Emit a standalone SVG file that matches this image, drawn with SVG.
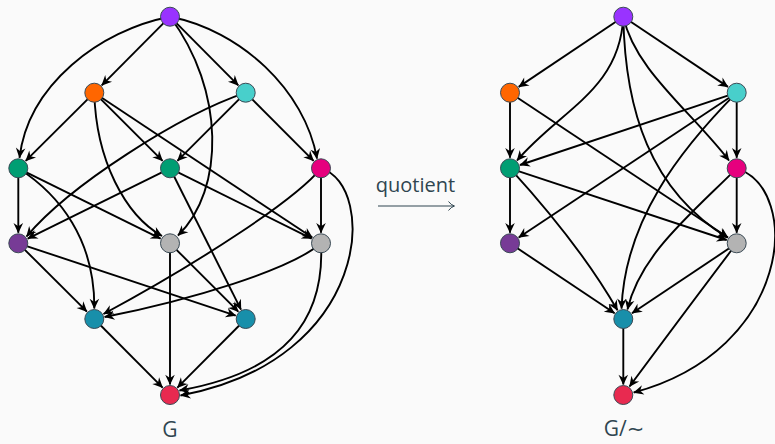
<svg xmlns="http://www.w3.org/2000/svg" width="775" height="444" viewBox="0 0 775 444">
<style>
.e{fill:none;stroke:#000;stroke-width:1.9;marker-end:url(#ah)}
.n{stroke:#3a4a55;stroke-width:1}
.t{font-family:"Open Sans","DejaVu Sans",sans-serif;fill:#2f4550;text-anchor:middle}
</style>
<defs>
<marker id="ah" viewBox="-11 -6 12 12" refX="0" refY="0" markerWidth="12" markerHeight="12" markerUnits="userSpaceOnUse" orient="auto">
<path d="M0.5,0 L-9.8,-4.8 L-6.6,0 L-9.8,4.8 Z" fill="#000"/>
</marker>
</defs>
<rect width="775" height="444" fill="#fafafa"/>
<g id="connectors">
<path class="e" d="M170,16.7 L101.7,85.3"/>
<path class="e" d="M170,16.7 L238.3,85.3"/>
<path class="e" d="M170,16.7 C100,30 28,85 19.5,157.8"/>
<path class="e" d="M170,16.7 C240,30 305,90 317,158.6"/>
<path class="e" d="M170,16.7 C225,90 225,190 178,235.5"/>
<path class="e" d="M94.3,92.7 L25.7,160.9"/>
<path class="e" d="M94.3,92.7 L162.6,160.9"/>
<path class="e" d="M94.3,92.7 C96,160 125,215 162,236"/>
<path class="e" d="M94.3,92.7 L312.3,237.5"/>
<path class="e" d="M245.7,92.7 L177.4,160.9"/>
<path class="e" d="M245.7,92.7 L313.6,160.9"/>
<path class="e" d="M245.7,92.7 C180,115 70,185 26.5,236.5"/>
<path class="e" d="M18.3,168.3 L18.3,232.8"/>
<path class="e" d="M18.3,168.3 L160.6,238.6"/>
<path class="e" d="M18.3,168.3 C60,195 95,240 94.3,308.5"/>
<path class="e" d="M170,168.3 L27.7,238.6"/>
<path class="e" d="M170,168.3 L311.6,238.6"/>
<path class="e" d="M170,168.3 L241,309.6"/>
<path class="e" d="M321,168.3 L321,232.8"/>
<path class="e" d="M321,168.3 C295,200 200,262 103.5,314"/>
<path class="e" d="M321,168.3 C378,185 372,360 180.5,395.5"/>
<path class="e" d="M18.3,243.3 L86.9,311.6"/>
<path class="e" d="M18.3,243.3 L235.7,315.7"/>
<path class="e" d="M170,243.3 L238.3,311.6"/>
<path class="e" d="M170,243.3 L170,384.5"/>
<path class="e" d="M321,243.3 C290,270 190,300 104.6,317"/>
<path class="e" d="M321,243.3 C325,320 285,372 179.5,390.5"/>
<path class="e" d="M94.3,319 L162.6,387.6"/>
<path class="e" d="M245.7,319 L177.4,387.6"/>
<path class="e" d="M623.3,16.7 L518.7,86.9"/>
<path class="e" d="M623.3,16.7 L728,86.9"/>
<path class="e" d="M623.3,16.7 C620,90 560,110 517,160.5"/>
<path class="e" d="M623.3,16.7 C635,70 690,110 729,160.5"/>
<path class="e" d="M623.3,16.7 C625,110 650,190 727.7,237.7"/>
<path class="e" d="M510,92.7 L510,157.8"/>
<path class="e" d="M510,92.7 L728,237.5"/>
<path class="e" d="M736.7,92.7 L520,165"/>
<path class="e" d="M736.7,92.7 L736.7,157.8"/>
<path class="e" d="M736.7,92.7 L518.7,237.5"/>
<path class="e" d="M736.7,92.7 C680,150 625,220 621.5,308.6"/>
<path class="e" d="M510,168.3 L510,232.8"/>
<path class="e" d="M510,168.3 L726.7,240"/>
<path class="e" d="M510,168.3 Q580,245 617.5,310.3"/>
<path class="e" d="M736.7,168.3 L736.7,232.8"/>
<path class="e" d="M736.7,168.3 C690,215 640,255 627.5,309.4"/>
<path class="e" d="M736.7,168.3 C803,190 792,350 633.7,392.5"/>
<path class="e" d="M510,243.3 L614.6,313.2"/>
<path class="e" d="M736.7,243.3 L632,313.2"/>
<path class="e" d="M736.7,243.3 Q690,305 629.5,386.5"/>
<path class="e" d="M623.3,319 L623.3,384.5"/>
</g>
<g id="G-A"><circle class="n" cx="170" cy="16.7" r="9.5" fill="#9933ff"/></g>
<g id="G-B"><circle class="n" cx="94.3" cy="92.7" r="9.5" fill="#ff6600"/></g>
<g id="G-C"><circle class="n" cx="245.7" cy="92.7" r="9.5" fill="#48cfcb"/></g>
<g id="G-D"><circle class="n" cx="18.3" cy="168.3" r="9.5" fill="#009e73"/></g>
<g id="G-E"><circle class="n" cx="170" cy="168.3" r="9.5" fill="#009e73"/></g>
<g id="G-F"><circle class="n" cx="321" cy="168.3" r="9.5" fill="#e6007e"/></g>
<g id="G-G"><circle class="n" cx="18.3" cy="243.3" r="9.5" fill="#773b96"/></g>
<g id="G-H"><circle class="n" cx="170" cy="243.3" r="9.5" fill="#b3b3b3"/></g>
<g id="G-I"><circle class="n" cx="321" cy="243.3" r="9.5" fill="#b3b3b3"/></g>
<g id="G-J"><circle class="n" cx="94.3" cy="319" r="9.5" fill="#188faa"/></g>
<g id="G-K"><circle class="n" cx="245.7" cy="319" r="9.5" fill="#188faa"/></g>
<g id="G-L"><circle class="n" cx="170" cy="395" r="9.5" fill="#e82a50"/></g>
<g id="Q-a"><circle class="n" cx="623.3" cy="16.7" r="9.5" fill="#9933ff"/></g>
<g id="Q-b"><circle class="n" cx="510" cy="92.7" r="9.5" fill="#ff6600"/></g>
<g id="Q-c"><circle class="n" cx="736.7" cy="92.7" r="9.5" fill="#48cfcb"/></g>
<g id="Q-d"><circle class="n" cx="510" cy="168.3" r="9.5" fill="#009e73"/></g>
<g id="Q-f"><circle class="n" cx="736.7" cy="168.3" r="9.5" fill="#e6007e"/></g>
<g id="Q-g"><circle class="n" cx="510" cy="243.3" r="9.5" fill="#773b96"/></g>
<g id="Q-i"><circle class="n" cx="736.7" cy="243.3" r="9.5" fill="#b3b3b3"/></g>
<g id="Q-j"><circle class="n" cx="623.3" cy="319" r="9.5" fill="#188faa"/></g>
<g id="Q-l"><circle class="n" cx="623.3" cy="395" r="9.5" fill="#e82a50"/></g>
<g id="quotient-map">
<text class="t" x="415.5" y="192" font-size="20">quotient</text>
<path d="M378,206 H454 M448.5,201.5 Q451,205 454.5,206 Q451,207 448.5,210.5" fill="none" stroke="#2f4550" stroke-width="1"/>
</g>
<text class="t" x="170" y="437" font-size="21">G</text>
<text class="t" x="624" y="436" font-size="21">G/∼</text>
</svg>
